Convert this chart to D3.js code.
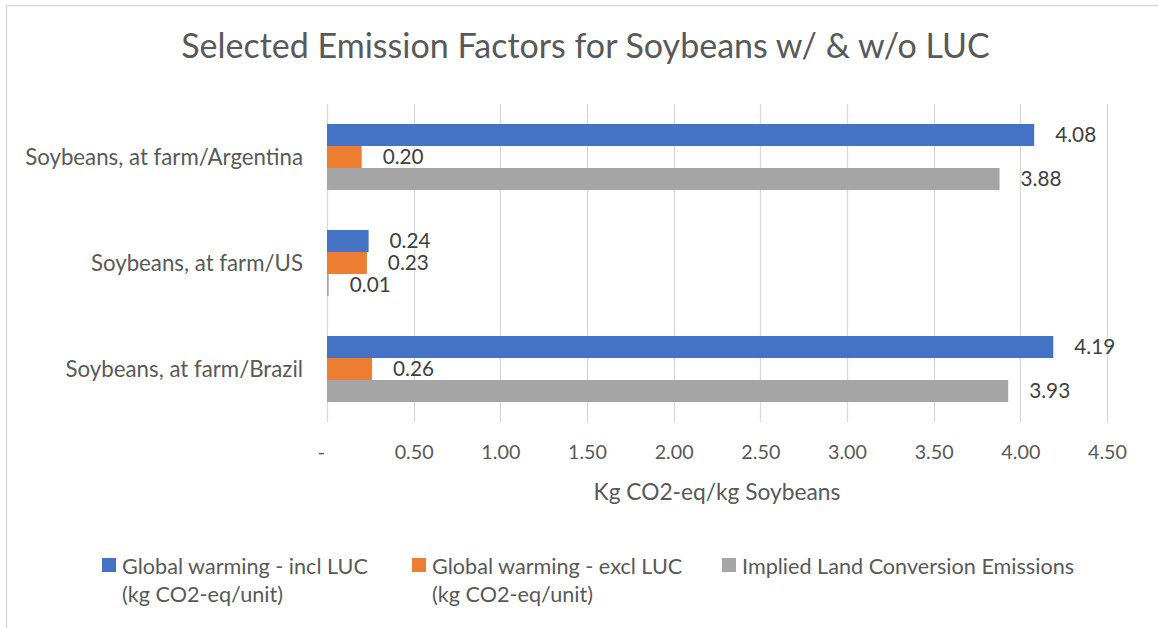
<!DOCTYPE html>
<html>
<head>
<meta charset="utf-8">
<script src="https://cdn.jsdelivr.net/npm/d3@7"></script>
<style>
  html, body { margin: 0; padding: 0; background: #fff; }
  svg { display: block; font-family: Lato, "Open Sans", sans-serif; }
</style>
</head>
<body>
<svg id="chart" width="1158" height="628"></svg>
<script>
// Emission factors per kg of soybeans, by origin
const categories = ["Soybeans, at farm/Argentina", "Soybeans, at farm/US", "Soybeans, at farm/Brazil"];
const seriesNames = ["Global warming - incl LUC", "Global warming - excl LUC", "Implied Land Conversion Emissions"];
const legendLines = [
  ["Global warming - incl LUC", "(kg CO2-eq/unit)"],
  ["Global warming - excl LUC", "(kg CO2-eq/unit)"],
  ["Implied Land Conversion Emissions"]
];
const inclLUC = [4.08, 0.24, 4.19];
const exclLUC = [0.20, 0.23, 0.26];
const impliedLUC = [3.88, 0.01, 3.93];
const tickValues = [0, 0.5, 1, 1.5, 2, 2.5, 3, 3.5, 4, 4.5];
const tickLabels = ["-", "0.50", "1.00", "1.50", "2.00", "2.50", "3.00", "3.50", "4.00", "4.50"];
const colors = ["#4472C4", "#ED7D31", "#A5A5A5"];

const seriesValues = [inclLUC, exclLUC, impliedLUC];

const svg = d3.select("#chart");

// Set a text's font size so that it spans the given width
function fitWidth(sel, width) {
  sel.each(function () {
    const base = 20;
    this.setAttribute("font-size", base);
    const w = this.getComputedTextLength();
    this.setAttribute("font-size", (base * width / w).toFixed(2));
  });
  return sel;
}
function fontSizeFor(text, width, weight) {
  const t = svg.append("text").attr("font-weight", weight || 400).attr("font-size", 20).text(text);
  const w = t.node().getComputedTextLength();
  t.remove();
  return 20 * width / w;
}

// chart frame
svg.append("path")
  .attr("d", "M6.5,1200V5.5H1200")
  .attr("fill", "none")
  .attr("stroke", "#D9D9D9")
  .attr("stroke-width", 1.5);

const plot = { left: 327, right: 1107, top: 104, bottom: 422 };

const x = d3.scaleLinear().domain([0, 4.5]).range([plot.left, plot.right]);
const y = d3.scaleBand().domain(categories).range([plot.top, plot.bottom])
  .paddingInner(0.3774).paddingOuter(0.1887);
const ySub = d3.scaleBand().domain(seriesNames).range([0, y.bandwidth()]);

// title
const title = svg.append("text")
  .attr("x", 585.5).attr("y", 58)
  .attr("text-anchor", "middle")
  .attr("fill", "#595959")
  .text("Selected Emission Factors for Soybeans w/ & w/o LUC");
fitWidth(title, 809);

// vertical gridlines
svg.append("g")
  .selectAll("line")
  .data(tickValues)
  .join("line")
  .attr("x1", d => Math.round(x(d)) + 0.5).attr("x2", d => Math.round(x(d)) + 0.5)
  .attr("y1", plot.top).attr("y2", plot.bottom)
  .attr("stroke", "#D9D9D9").attr("stroke-width", 1.3);

// x axis tick labels (zero shown as an accounting dash, set slightly left)
const tickSize = fontSizeFor("0.50", 39);
const xAxis = d3.axisBottom(x)
  .tickValues(tickValues)
  .tickFormat((d, i) => tickLabels[i])
  .tickSize(0)
  .tickPadding(0);
const gx = svg.append("g")
  .attr("transform", `translate(0,${plot.bottom})`)
  .call(xAxis);
gx.select(".domain").remove();
gx.selectAll("text")
  .attr("y", 37)
  .attr("dy", 0)
  .attr("dx", d => d === 0 ? -6 : 0)
  .attr("font-family", "Lato, sans-serif")
  .attr("font-size", tickSize)
  .attr("fill", "#595959");

// category axis labels
const catSize = fontSizeFor(categories[0], 278);
const gy = svg.append("g")
  .attr("transform", `translate(${plot.left},0)`)
  .call(d3.axisLeft(y).tickSize(0).tickPadding(24));
gy.select(".domain").remove();
gy.selectAll("text")
  .attr("font-family", "Lato, sans-serif")
  .attr("font-size", catSize)
  .attr("dy", "0.36em")
  .attr("fill", "#595959");

// axis title
const axTitle = svg.append("text")
  .attr("x", (plot.left + plot.right) / 2).attr("y", 500)
  .attr("text-anchor", "middle")
  .attr("fill", "#595959")
  .text("Kg CO2-eq/kg Soybeans");
fitWidth(axTitle, 247);

// bars
const rows = [];
categories.forEach((c, ci) => {
  seriesNames.forEach((s, si) => {
    rows.push({ cat: c, series: s, si, value: seriesValues[si][ci] });
  });
});

svg.append("g")
  .selectAll("rect")
  .data(rows)
  .join("rect")
  .attr("x", x(0))
  .attr("y", d => y(d.cat) + ySub(d.series))
  .attr("width", d => x(d.value) - x(0))
  .attr("height", ySub.bandwidth())
  .attr("fill", d => colors[d.si]);

// data labels
const labelSize = fontSizeFor("4.08", 41);
svg.append("g")
  .selectAll("text")
  .data(rows)
  .join("text")
  .attr("x", d => x(d.value) + 21)
  .attr("y", d => y(d.cat) + ySub(d.series) + ySub.bandwidth() / 2)
  .attr("dy", "0.36em")
  .attr("font-size", labelSize)
  .attr("fill", "#404040")
  .text(d => d.value.toFixed(2));

// legend
const legendSize = fontSizeFor(legendLines[0][0], 246);
const legendX = [102, 412, 722];
const legend = svg.append("g")
  .selectAll("g")
  .data(seriesNames)
  .join("g")
  .attr("transform", (d, i) => `translate(${legendX[i]},558)`);
legend.append("rect")
  .attr("width", 14).attr("height", 14)
  .attr("fill", (d, i) => colors[i]);
legend.append("text")
  .attr("x", 20).attr("y", 16)
  .attr("font-size", legendSize)
  .attr("fill", "#595959")
  .selectAll("tspan")
  .data((d, i) => legendLines[i])
  .join("tspan")
  .attr("x", 20)
  .attr("dy", (d, j) => j === 0 ? 0 : 28)
  .text(d => d);
</script>
</body>
</html>
